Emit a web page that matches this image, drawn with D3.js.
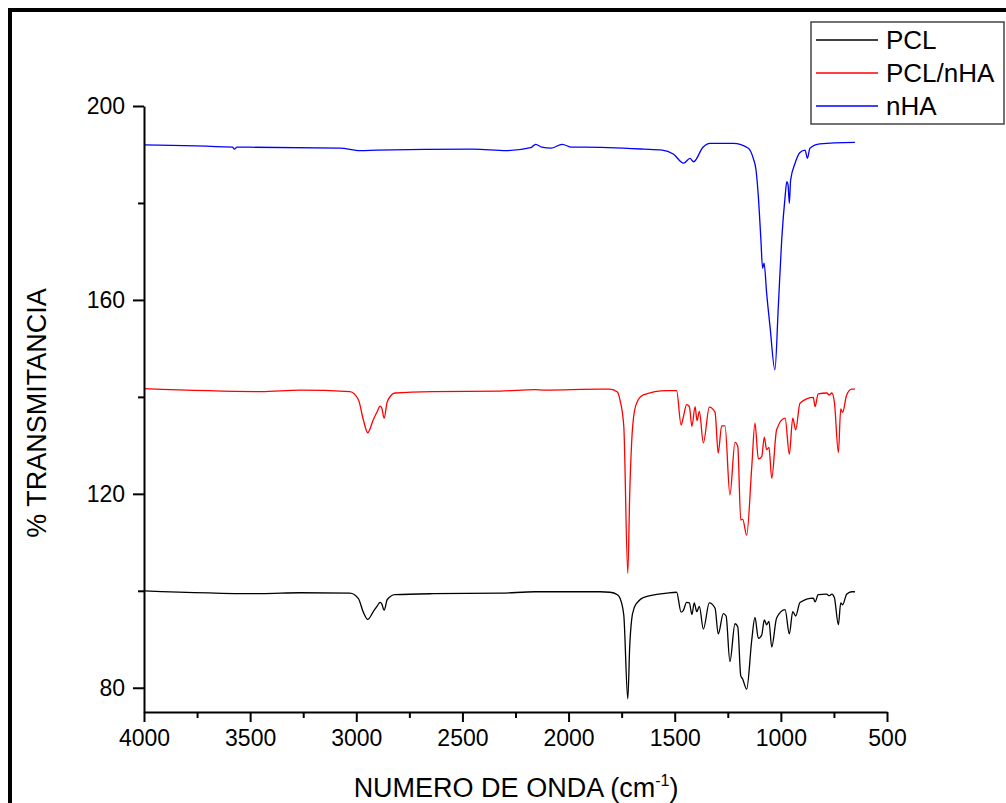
<!DOCTYPE html>
<html>
<head>
<meta charset="utf-8">
<script src="https://cdn.jsdelivr.net/npm/d3@7"></script>
<style>
  body { margin: 0; background: #fff; }
  svg { display: block; font-family: "Liberation Sans", Arial, sans-serif; }
</style>
</head>
<body>
<div id="chart"></div>
<script>
// FTIR spectra, values: [wavenumber (cm-1), % transmittance]
const pcl = [
  [4000, 100.0], [3449, 99.4], [3265, 99.6], [3030, 99.5], [2990, 98.4], [2967, 95.6],
  [2946, 94.1], [2920, 95.7], [2901, 96.9], [2888, 97.6], [2880, 97.3], [2869, 96.0],
  [2854, 98.2], [2818, 99.2], [2639, 99.4], [2323, 99.5], [2158, 99.8], [1852, 99.8],
  [1805, 99.7], [1770, 99.2], [1758, 98.5], [1740, 95.0], [1721, 77.7], [1712, 88.5],
  [1703, 94.0], [1690, 96.6], [1672, 97.8], [1648, 98.6], [1538, 99.5], [1491, 99.7],
  [1470, 95.6], [1460, 95.9], [1444, 97.6], [1431, 97.5], [1419, 95.1], [1408, 97.5],
  [1396, 95.7], [1384, 96.8], [1365, 92.1], [1337, 97.5], [1310, 96.4], [1295, 91.1],
  [1271, 95.3], [1258, 94.8], [1240, 85.4], [1216, 93.2], [1203, 92.6], [1189, 82.5],
  [1180, 81.8], [1161, 79.7], [1137, 89.9], [1122, 94.5], [1106, 90.2], [1090, 90.9],
  [1078, 94.0], [1067, 93.0], [1056, 93.7], [1043, 88.4], [1020, 94.4], [980, 96.1],
  [960, 91.1], [944, 95.7], [930, 94.8], [910, 97.6], [847, 98.5], [839, 97.7],
  [824, 99.2], [784, 99.3], [772, 99.0], [760, 99.3], [748, 98.6], [729, 93.0],
  [718, 97.5], [709, 97.1], [690, 99.3], [666, 99.8], [651, 99.8]
];

const pclNha = [
  [4000, 141.7], [3449, 141.1], [3265, 141.4], [3030, 141.1], [2990, 139.4], [2967, 135.3],
  [2946, 132.6], [2920, 135.3], [2901, 137.0], [2888, 138.1], [2880, 137.7], [2869, 135.6],
  [2854, 139.0], [2818, 140.8], [2639, 141.1], [2323, 141.2], [2158, 141.5], [2111, 141.4],
  [1852, 141.6], [1805, 141.6], [1770, 141.0], [1758, 139.4], [1740, 134.0], [1721, 103.6],
  [1712, 120.0], [1703, 130.5], [1690, 137.0], [1672, 139.4], [1648, 140.4], [1538, 141.3],
  [1491, 141.3], [1470, 134.2], [1460, 135.7], [1444, 138.4], [1431, 138.0], [1419, 133.9],
  [1404, 138.0], [1395, 135.1], [1384, 137.0], [1365, 130.5], [1337, 137.9], [1310, 136.8],
  [1295, 128.4], [1279, 134.0], [1263, 134.0], [1240, 119.8], [1216, 130.6], [1203, 129.8],
  [1189, 114.6], [1180, 114.8], [1161, 111.5], [1137, 125.6], [1122, 134.6], [1106, 127.2],
  [1090, 127.7], [1078, 131.7], [1067, 129.1], [1056, 129.6], [1043, 123.2], [1020, 133.2],
  [980, 135.6], [960, 128.2], [944, 135.6], [930, 133.2], [910, 138.7], [847, 139.9],
  [839, 138.0], [824, 140.6], [784, 140.8], [772, 140.4], [760, 140.8], [748, 139.0],
  [729, 128.5], [718, 137.5], [709, 136.8], [690, 140.4], [666, 141.6], [651, 141.6]
];

const nha = [
  [4000, 192.0], [3583, 191.5], [3574, 191.1], [3562, 191.5], [3077, 191.3], [2981, 190.8],
  [2902, 190.9], [2450, 191.1], [2291, 190.8], [2178, 191.4], [2155, 192.1], [2126, 191.5],
  [2083, 191.3], [2030, 192.1], [1986, 191.5], [1925, 191.5], [1646, 191.1], [1559, 190.9],
  [1507, 190.1], [1458, 188.2], [1428, 189.2], [1411, 188.5], [1367, 191.5], [1334, 192.3],
  [1224, 192.3], [1153, 191.3], [1130, 189.2], [1117, 186.8], [1106, 181.3], [1094, 172.4],
  [1086, 166.5], [1079, 167.6], [1067, 161.4], [1051, 154.5], [1028, 145.6], [1012, 158.6],
  [996, 172.4], [980, 181.3], [972, 184.4], [966, 183.7], [960, 179.9], [954, 184.7],
  [933, 188.2], [910, 190.4], [886, 190.9], [875, 189.2], [863, 191.3], [816, 192.2],
  [651, 192.5]
];

const seriesNames = ["PCL", "PCL/nHA", "nHA"];
const seriesColors = ["#000000", "#ff0000", "#0000ff"];
const xTicks = [4000, 3500, 3000, 2500, 2000, 1500, 1000, 500];
const xMinorTicks = [3750, 3250, 2750, 2250, 1750, 1250, 750];
const yTicks = [80, 120, 160, 200];
const yMinorTicks = [100, 140, 180];

const W = 1006, H = 803;
const plot = { left: 144, right: 887, top: 106, bottom: 712 };

const svg = d3.select("#chart").append("svg")
  .attr("width", W)
  .attr("height", H);

// outer frame (runs off the right and bottom edges)
svg.append("rect")
  .attr("x", 10).attr("y", 10)
  .attr("width", 1020).attr("height", 820)
  .attr("fill", "none")
  .attr("stroke", "#000")
  .attr("stroke-width", 4);

const x = d3.scaleLinear().domain([4000, 500]).range([plot.left, plot.right]);
const y = d3.scaleLinear().domain([75, 200]).range([plot.bottom, plot.top]);

// spectra
const line = d3.line()
  .x(d => x(d[0]))
  .y(d => y(d[1]))
  .curve(d3.curveMonotoneX);

[pcl, pclNha, nha].forEach((s, i) => {
  svg.append("path")
    .datum(s)
    .attr("fill", "none")
    .attr("stroke", seriesColors[i])
    .attr("stroke-width", 1.3)
    .attr("stroke-linejoin", "round")
    .attr("d", line);
});

// x axis
const xAxis = svg.append("g").attr("transform", `translate(0,${plot.bottom})`);
xAxis.call(d3.axisBottom(x).tickValues(xMinorTicks).tickSize(6).tickFormat(""));
xAxis.call(g => g.select(".domain").remove());
const xMajor = svg.append("g").attr("transform", `translate(0,${plot.bottom})`)
  .call(d3.axisBottom(x).tickValues(xTicks).tickSize(10).tickSizeOuter(0)
    .tickPadding(8).tickFormat(d3.format("d")));
xMajor.selectAll("text").attr("font-size", 23).attr("fill", "#000")
  .attr("font-family", "Liberation Sans, Arial, sans-serif");

// y axis
const yAxis = svg.append("g").attr("transform", `translate(${plot.left},0)`);
yAxis.call(d3.axisLeft(y).tickValues(yMinorTicks).tickSize(6).tickFormat(""));
yAxis.call(g => g.select(".domain").remove());
const yMajor = svg.append("g").attr("transform", `translate(${plot.left},0)`)
  .call(d3.axisLeft(y).tickValues(yTicks).tickSize(11).tickSizeOuter(0)
    .tickPadding(8).tickFormat(d3.format("d")));
yMajor.selectAll("text").attr("font-size", 23).attr("fill", "#000")
  .attr("font-family", "Liberation Sans, Arial, sans-serif");

svg.selectAll(".tick line").attr("stroke", "#000").attr("stroke-width", 2);
svg.selectAll(".domain").attr("stroke", "#000").attr("stroke-width", 2);

// axis titles
const xTitle = svg.append("text")
  .attr("x", 516).attr("y", 797)
  .attr("text-anchor", "middle")
  .attr("font-size", 27)
  .text("NUMERO DE ONDA (cm");
xTitle.append("tspan").attr("dy", -11).attr("font-size", 16).text("-1");
xTitle.append("tspan").attr("dy", 11).text(")");

svg.append("text")
  .attr("transform", "translate(46,413) rotate(-90)")
  .attr("text-anchor", "middle")
  .attr("font-size", 27)
  .text("% TRANSMITANCIA");

// legend
const legend = svg.append("g");
legend.append("rect")
  .attr("x", 811).attr("y", 22)
  .attr("width", 193).attr("height", 102)
  .attr("fill", "#fff")
  .attr("stroke", "#444")
  .attr("stroke-width", 1.5);

seriesNames.forEach((name, i) => {
  const cy = 40 + i * 33;
  legend.append("line")
    .attr("x1", 816).attr("x2", 878)
    .attr("y1", cy).attr("y2", cy)
    .attr("stroke", seriesColors[i])
    .attr("stroke-width", 1.3);
  legend.append("text")
    .attr("x", 886).attr("y", cy + 9)
    .attr("font-size", 26)
    .text(name);
});
</script>
</body>
</html>
